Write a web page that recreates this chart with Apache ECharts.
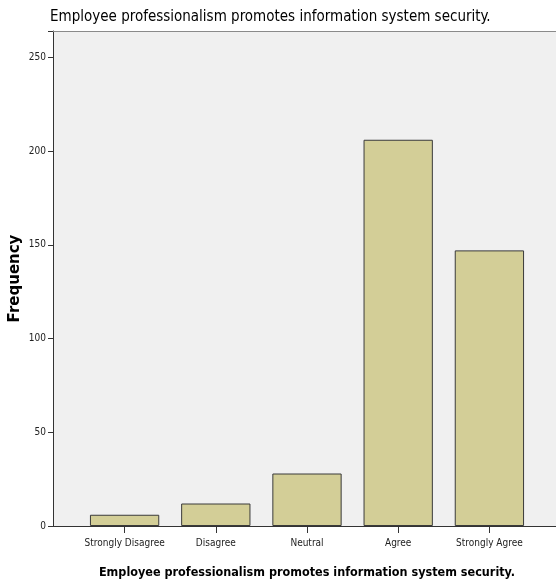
<!DOCTYPE html>
<html>
<head>
<meta charset="utf-8">
<script src="https://cdn.jsdelivr.net/npm/echarts@6/dist/echarts.min.js"></script>
<style>
  html, body { margin: 0; padding: 0; background: #ffffff; }
  #chart { width: 556px; height: 586px; }
</style>
</head>
<body>
<div id="chart"></div>
<script>
// Survey responses and their frequencies
const categories = ['Strongly Disagree', 'Disagree', 'Neutral', 'Agree', 'Strongly Agree'];
const frequencies = [6, 12, 28, 206, 147];
const yTicks = [0, 50, 100, 150, 200, 250];

const questionText = 'Employee professionalism promotes information system security.';
const narrow = '"DejaVu Sans Condensed", "Liberation Sans Narrow", sans-serif';

const chart = echarts.init(document.getElementById('chart'), null, { renderer: 'canvas' });

chart.setOption({
  backgroundColor: '#ffffff',
  animation: false,
  title: {
    text: questionText,
    left: 45,
    top: 5,
    textStyle: { fontFamily: narrow, fontSize: 15, fontWeight: 'normal', color: '#000' }
  },
  grid: [
    // full plot panel (shaded background and frame lines)
    { left: 53, right: 0, top: 31, bottom: 60, show: true, backgroundColor: '#f0f0f0', borderWidth: 0,
      containLabel: false, outerBoundsMode: 'none' },
    // inner band where the bars sit
    { left: 79, right: 21, top: 31, bottom: 60, containLabel: false, outerBoundsMode: 'none' }
  ],
  xAxis: [
    {
      gridIndex: 0, type: 'value', min: 0, max: 1, position: 'bottom',
      axisLine: { show: true, lineStyle: { color: '#333', width: 1 } },
      axisTick: { show: false }, axisLabel: { show: false }, splitLine: { show: false }
    },
    {
      gridIndex: 0, type: 'value', min: 0, max: 1, position: 'top',
      axisLine: { show: true, lineStyle: { color: '#8a8a8a', width: 1 } },
      axisTick: { show: false }, axisLabel: { show: false }, splitLine: { show: false }
    },
    {
      gridIndex: 1, type: 'category', data: categories, position: 'bottom',
      boundaryGap: true,
      axisLine: { show: false },
      axisTick: { show: true, alignWithLabel: true, length: 7, lineStyle: { color: '#333' } },
      axisLabel: { fontFamily: narrow, fontSize: 10, color: '#222', margin: 12, interval: 0 },
      name: questionText,
      nameLocation: 'middle',
      nameGap: 40,
      nameMoveOverlap: false,
      nameTextStyle: { fontFamily: narrow, fontSize: 12.5, fontWeight: 'bold', color: '#000' }
    }
  ],
  yAxis: [
    {
      gridIndex: 0, type: 'value', min: 0, max: 1, show: false
    },
    {
      gridIndex: 1, type: 'value', min: 0, max: 264, interval: 50,
      offset: 26,
      axisLine: { show: true, lineStyle: { color: '#333', width: 1 } },
      axisTick: { show: true, length: 5, lineStyle: { color: '#333' } },
      axisLabel: {
        fontFamily: narrow, fontSize: 10, color: '#222', margin: 7,
        formatter: v => (yTicks.indexOf(v) >= 0 ? String(v) : '')
      },
      splitLine: { show: false },
      name: 'Frequency',
      nameLocation: 'middle',
      nameRotate: 90,
      nameGap: 30,
      nameMoveOverlap: false,
      nameTextStyle: { fontFamily: '"DejaVu Sans", sans-serif', fontSize: 15, fontWeight: 'bold', color: '#000' }
    }
  ],
  series: [
    {
      type: 'bar',
      xAxisIndex: 2,
      yAxisIndex: 1,
      data: frequencies,
      barCategoryGap: '24%',
      itemStyle: { color: '#d3ce97', borderColor: '#3a3a3a', borderWidth: 1 }
    }
  ]
});
</script>
</body>
</html>
